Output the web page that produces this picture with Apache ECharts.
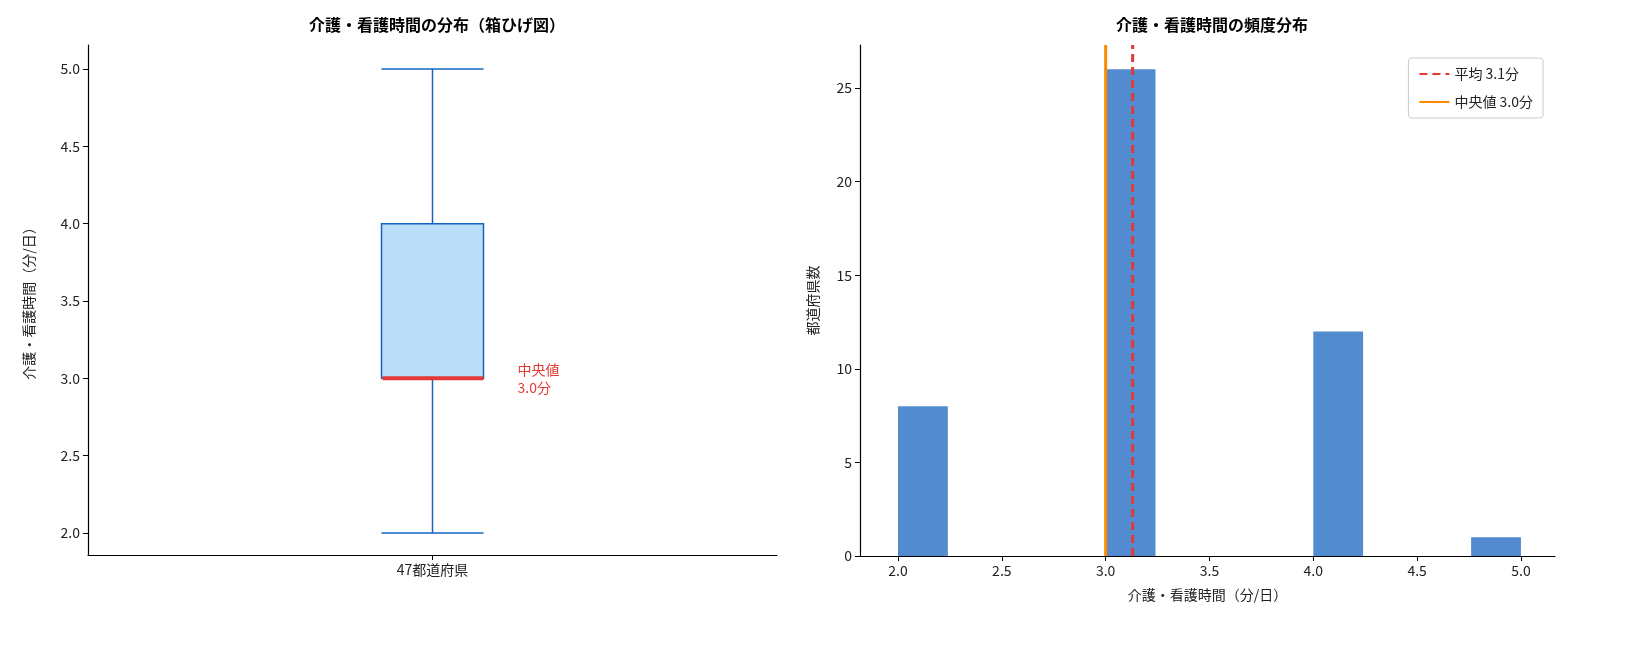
<!DOCTYPE html>
<html><head><meta charset="utf-8">
<script src="https://cdn.jsdelivr.net/npm/echarts@6/dist/echarts.min.js"></script>
<style>html,body{margin:0;padding:0;background:#fff}#c{width:1635px;height:660px}</style>
</head><body><div id="c"></div>
<script>
// box plot stats (min, q1, median, q3, max)
const boxCategory = ["47都道府県"];
const boxStats = [[2.0, 3.0, 3.0, 4.0, 5.0]];
const boxTicks = [2.0, 2.5, 3.0, 3.5, 4.0, 4.5, 5.0];
const medianValue = 3.0;
const meanValue = 3.13;
// histogram bins (left edge, count)
const binLefts = [2.0, 2.3, 2.6, 3.0, 3.3, 3.6, 4.0, 4.3, 4.6, 4.76];
const binCounts = [8, 0, 0, 26, 0, 0, 12, 0, 0, 1];
const histXTicks = [2.0, 2.5, 3.0, 3.5, 4.0, 4.5, 5.0];
const barWidth = 0.24;

const font = '"Noto Sans CJK JP", "Noto Sans", sans-serif';
const axisCommon = {
  axisLine: { show: true, lineStyle: { color: "#000", width: 1.2 } },
  axisTick: { show: true, length: 5, lineStyle: { color: "#000" } },
  axisLabel: { color: "#222", fontSize: 14, fontFamily: font },
  splitLine: { show: false }
};
const fmt = v => Number(v).toFixed(1);

const chart = echarts.init(document.getElementById("c"));
chart.setOption({
  animation: false,
  textStyle: { fontFamily: font },
  title: [
    { text: "介護・看護時間の分布（箱ひげ図）", left: 432, top: 12, textAlign: "center",
      textStyle: { fontSize: 16, fontWeight: "bold", color: "#000", fontFamily: font } },
    { text: "介護・看護時間の頻度分布", left: 1207, top: 12, textAlign: "center",
      textStyle: { fontSize: 16, fontWeight: "bold", color: "#000", fontFamily: font } }
  ],
  grid: [
    { left: 88, top: 45, width: 689, height: 510 },
    { left: 860, top: 45, width: 695, height: 511 }
  ],
  legend: {
    right: 92, top: 58, orient: "vertical", itemWidth: 30, itemHeight: 3, itemGap: 14,
    padding: [9, 10], borderColor: "#ccc", borderWidth: 1, borderRadius: 3,
    textStyle: { fontSize: 14, fontFamily: font, color: "#222" },
    data: ["平均 3.1分", "中央値 3.0分"]
  },
  xAxis: [
    Object.assign({}, axisCommon, { gridIndex: 0, type: "category", data: boxCategory,
      axisTick: { show: true, alignWithLabel: true, length: 5, lineStyle: { color: "#000" } } }),
    Object.assign({}, axisCommon, { gridIndex: 1, type: "value", min: 1.817, max: 5.164,
      name: "介護・看護時間（分/日）", nameLocation: "middle", nameGap: 32,
      nameTextStyle: { fontSize: 14, color: "#222", fontFamily: font },
      axisTick: { show: true, length: 5, lineStyle: { color: "#000" }, customValues: histXTicks },
      axisLabel: { color: "#222", fontSize: 14, fontFamily: font, customValues: histXTicks, formatter: fmt } })
  ],
  yAxis: [
    Object.assign({}, axisCommon, { gridIndex: 0, type: "value", min: 1.858, max: 5.155,
      name: "介護・看護時間（分/日）", nameLocation: "middle", nameGap: 52,
      nameTextStyle: { fontSize: 14, color: "#222", fontFamily: font },
      axisTick: { show: true, length: 5, lineStyle: { color: "#000" }, customValues: boxTicks },
      axisLabel: { color: "#222", fontSize: 14, fontFamily: font, customValues: boxTicks, formatter: fmt } }),
    Object.assign({}, axisCommon, { gridIndex: 1, type: "value", min: 0, max: 27.3, interval: 5,
      name: "都道府県数", nameLocation: "middle", nameGap: 40,
      nameTextStyle: { fontSize: 14, color: "#222", fontFamily: font },
      axisLabel: { color: "#222", fontSize: 14, fontFamily: font, showMaxLabel: false } })
  ],
  series: [
    { type: "boxplot", xAxisIndex: 0, yAxisIndex: 0, data: boxStats, boxWidth: [102, 102],
      itemStyle: { color: "#bbdefb", borderColor: "#1565c0", borderWidth: 1.5 } },
    { type: "custom", xAxisIndex: 0, yAxisIndex: 0, data: [[0, medianValue]], z: 5,
      renderItem: (params, api) => {
        const p = api.coord([api.value(0), api.value(1)]);
        return { type: "group", children: [
          { type: "line", shape: { x1: p[0] - 50, y1: p[1], x2: p[0] + 51, y2: p[1] },
            style: { stroke: "#e53935", lineWidth: 4 } },
          { type: "text", x: p[0] + 85, y: p[1], style: { text: "中央値\n" + medianValue.toFixed(1) + "分",
            fill: "#e53935", font: "14px " + font, verticalAlign: "middle", lineHeight: 18 } }
        ] };
      } },
    { type: "custom", xAxisIndex: 1, yAxisIndex: 1,
      data: binLefts.map((s, i) => [s, binCounts[i]]),
      renderItem: (params, api) => {
        if (api.value(1) <= 0) return null;
        const a = api.coord([api.value(0), api.value(1)]);
        const b = api.coord([api.value(0) + barWidth, 0]);
        return { type: "rect", shape: { x: a[0], y: a[1], width: b[0] - a[0], height: b[1] - a[1] },
          style: { fill: "#528bcf" } };
      } },
    { name: "平均 3.1分", type: "line", xAxisIndex: 1, yAxisIndex: 1, symbol: "none", z: 6,
      data: [[meanValue, 0], [meanValue, 27.3]], color: "#e53935",
      lineStyle: { color: "#e53935", width: 3, type: [8, 5] } },
    { name: "中央値 3.0分", type: "line", xAxisIndex: 1, yAxisIndex: 1, symbol: "none", z: 6,
      data: [[medianValue, 0], [medianValue, 27.3]], color: "#fb8c00",
      lineStyle: { color: "#fb8c00", width: 3 } }
  ]
});
</script></body></html>
